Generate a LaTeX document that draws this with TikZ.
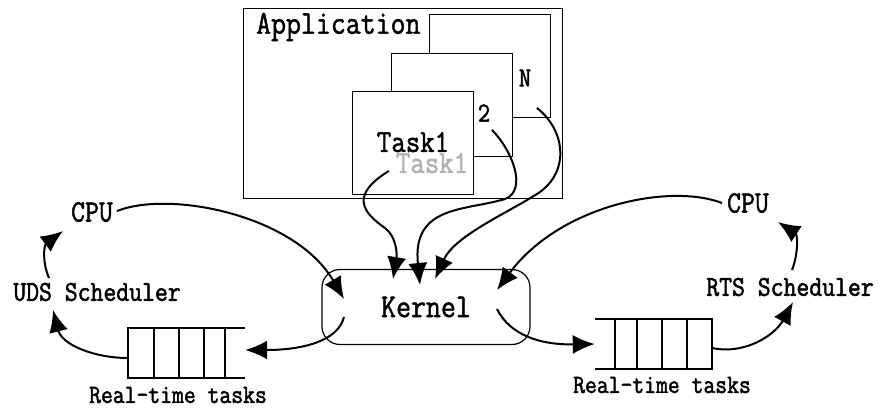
\documentclass[tikz,border=0pt]{standalone}
\usepackage{graphicx}
\usetikzlibrary{arrows.meta}
% monospaced labels, stretched a little in height and drawn with a fine outline
\newcommand\tallglyphs[1]{\special{pdf:literal direct 2 Tr 0.45 w}\scalebox{1}[1.15]{#1}\special{pdf:literal direct 0 Tr}}

\begin{document}
\begin{tikzpicture}[x=1pt,y=-1pt,
  txt/.style={inner sep=0pt, font=\ttfamily\fontsize{#1}{#1}\selectfont},
  taskbox/.style={draw, line width=0.8pt, fill=white, minimum width=121pt,
                  minimum height=103pt, anchor=north west, inner sep=0pt},
  queuebox/.style={minimum width=117pt, minimum height=50pt, inner sep=0pt},
  queueline/.style={line width=2pt, line join=miter},
  link/.style={line width=2pt, -{Latex[length=22pt,width=19pt]}}
]
\useasboundingbox[fill=white] (0,0) rectangle (878,408);

% application with its stacked tasks
\node[draw, line width=1pt, minimum width=319pt, minimum height=190pt,
      anchor=north west, inner sep=0pt] (app) at (243,8) {};
\node[txt=29, anchor=west] (apptitle) at (256,27) {\tallglyphs{Application}};
\node[taskbox] (taskN) at (429,14) {};
\node[taskbox] (task2) at (391,53) {};
\node[taskbox] (task1) at (352,91) {};
\node[txt=24] (labN) at (525,78) {\tallglyphs{N}};
\node[txt=24] (lab2) at (484,113) {\tallglyphs{2}};
\node[txt=28, text=black!30] (t1ghost) at (432,163) {\tallglyphs{Task1}};
\node[txt=28] (t1) at (413,142) {\tallglyphs{Task1}};

% kernel
\node[draw, line width=1.2pt, rounded corners=18pt, minimum width=208pt,
      minimum height=75pt, inner sep=0pt, font=\ttfamily\fontsize{29}{29}\selectfont]
      (kernel) at (426,307) {\tallglyphs{Kernel}};

% left side: CPU, scheduler, queue
\node[txt=27] (cpuL) at (92,212) {\tallglyphs{CPU}};
\node[txt=25] (uds) at (97,292) {\tallglyphs{UDS Scheduler}};
\node[queuebox] (qL) at (186.5,353) {};
\draw[queueline] (qL.north east) -- (qL.north west) -- (qL.south west) -- (qL.south east);
\foreach \x in {154,179,204,225} \draw[queueline] (\x,328) -- (\x,378);
\node[txt=23] (qLlab) at (178,395) {\tallglyphs{Real-time tasks}};

% right side: CPU, scheduler, queue
\node[txt=27] (cpuR) at (748,203) {\tallglyphs{CPU}};
\node[txt=25] (rts) at (790,287) {\tallglyphs{RTS Scheduler}};
\node[queuebox] (qR) at (653.5,344) {};
\draw[queueline] (qR.north west) -- (qR.north east) -- (qR.south east) -- (qR.south west);
\foreach \x in {615,637,662,687} \draw[queueline] (\x,319) -- (\x,369);
\node[txt=23] (qRlab) at (662,385) {\tallglyphs{Real-time tasks}};

% connectors
\draw[link] ([xshift=25pt,yshift=1pt]cpuL.center) .. controls (170,190) and (295,215) ..
            ([xshift=-82pt,yshift=8pt]kernel.center);
\draw[link] ([xshift=-82pt,yshift=-10pt]kernel.center) .. controls (338,342) and (300,350) ..
            ([yshift=3pt]qL.east);
\draw[link] ([yshift=-5pt]qL.west) .. controls (95,358) and (62,345) ..
            ([xshift=-44pt,yshift=-18pt]uds.center);
\draw[link] ([xshift=-48pt,yshift=14pt]uds.center) .. controls (42,262) and (44,245) ..
            ([xshift=-29pt,yshift=-19pt]cpuL.center);

\draw[link] ([xshift=-24pt,yshift=-28pt]task1.center) .. controls (350,195) and (362,212) ..
            (385,228) .. controls (397,237) and (397,255) ..
            ([xshift=-33pt,yshift=28pt]kernel.center);
\draw[link] ([xshift=40pt,yshift=-25pt]task2.center) .. controls (512,150) and (528,190) ..
            (505,199) .. controls (465,211) and (412,205) ..
            ([xshift=-6pt,yshift=22pt]kernel.center);
\draw[link] ([xshift=47pt,yshift=-42pt]taskN.center) .. controls (565,130) and (570,170) ..
            (540,192) .. controls (510,212) and (455,235) ..
            ([xshift=9pt,yshift=28pt]kernel.center);
\draw[link] ([xshift=-26pt]cpuR.center) .. controls (670,183) and (560,205) ..
            ([xshift=71pt,yshift=17pt]kernel.center);

\draw[link] ([xshift=71pt,yshift=-2pt]kernel.center) .. controls (510,335) and (540,345) ..
            (qR.west);
\draw[link] ([yshift=-4pt]qR.east) .. controls (745,355) and (775,335) ..
            ([xshift=3pt,yshift=-15pt]rts.center);
\draw[link] ([xshift=2pt,yshift=17pt]rts.center) .. controls (798,255) and (798,235) ..
            ([xshift=30pt,yshift=-19pt]cpuR.center);
\end{tikzpicture}
\end{document}
